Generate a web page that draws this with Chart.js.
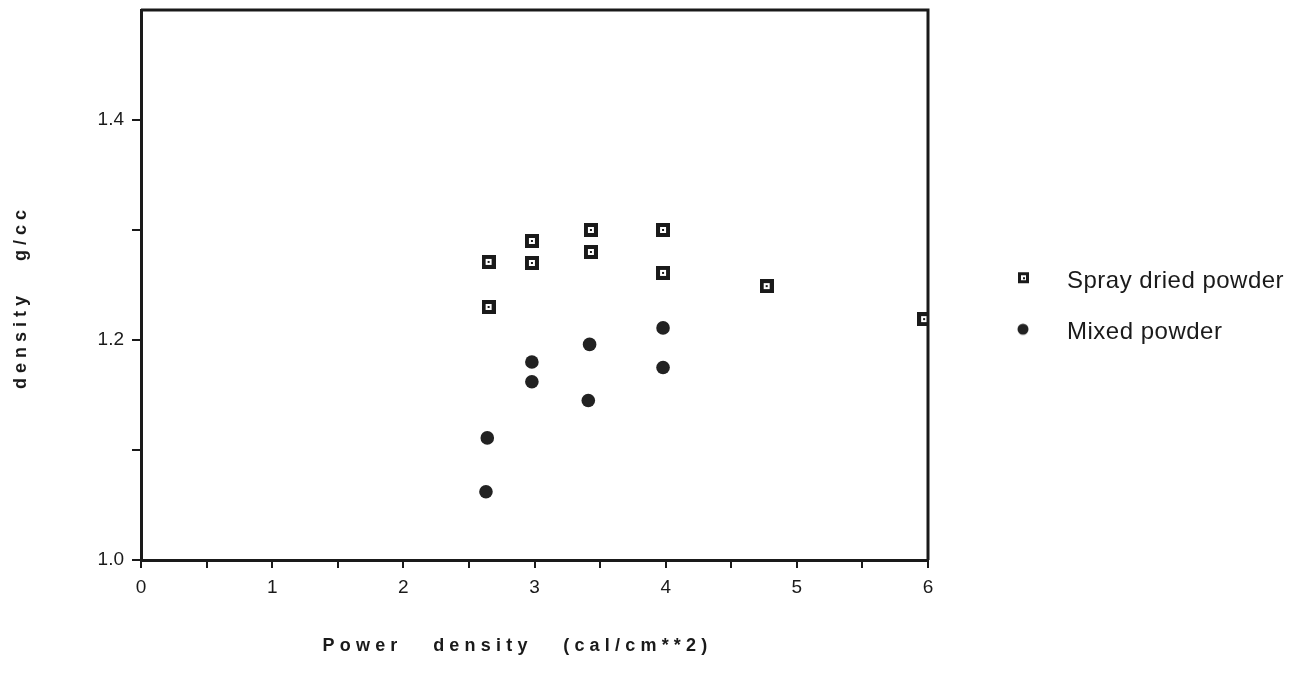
<!DOCTYPE html>
<html>
<head>
<meta charset="utf-8">
<script src="https://cdn.jsdelivr.net/npm/chart.js@4"></script>
<style>
  html, body { margin: 0; padding: 0; background: #fff; }
  #wrap { width: 1304px; height: 674px; }
</style>
</head>
<body>
<div id="wrap"><canvas id="chart" width="1304" height="674"></canvas></div>
<script>
// values
const sprayX = [2.65, 2.65, 2.98, 2.98, 3.43, 3.43, 3.98, 3.98, 4.77, 5.97];
const sprayY = [1.271, 1.230, 1.290, 1.270, 1.300, 1.280, 1.300, 1.261, 1.249, 1.219];
const mixedX = [2.64, 2.63, 2.98, 2.98, 3.42, 3.41, 3.98, 3.98];
const mixedY = [1.111, 1.062, 1.180, 1.162, 1.196, 1.145, 1.211, 1.175];
const yTicks = [1.0, 1.1, 1.2, 1.3, 1.4];
const yTickLabels = [1.0, 1.2, 1.4];
const xTickLabels = [0, 1, 2, 3, 4, 5, 6];

const ink = '#1a1a1a';
const FONT = 'Liberation Sans, Arial, sans-serif';

// square marker with a small white hole and dot in the middle
function drawSquare(g, cx, cy, size) {
  const x0 = Math.round(cx - size / 2), y0 = Math.round(cy - size / 2);
  g.fillStyle = ink;
  g.fillRect(x0, y0, size, size);
  const h = Math.round(size * 0.42);
  const o = Math.round((size - h) / 2);
  g.fillStyle = '#fff';
  g.fillRect(x0 + o, y0 + o, h, h);
  g.fillStyle = ink;
  const d = 2;
  const od = Math.round((size - d) / 2);
  g.fillRect(x0 + od, y0 + od, d, d);
}

function markerCanvas(w, h) {
  const c = document.createElement('canvas');
  c.width = w; c.height = h;
  return c;
}

const sqBig = markerCanvas(14, 14);
drawSquare(sqBig.getContext('2d'), 7, 7, 14);

// legend markers sit left of the box centre so the gap to the text matches
const sqLegend = markerCanvas(52, 20);
drawSquare(sqLegend.getContext('2d'), 6, 6, 11);
const dotLegend = markerCanvas(52, 20);
(function () {
  const g = dotLegend.getContext('2d');
  g.fillStyle = '#222';
  g.beginPath();
  g.arc(6, 7, 5.5, 0, Math.PI * 2);
  g.fill();
})();

const toPts = (xs, ys) => xs.map((x, i) => ({ x: x, y: ys[i] }));

function spaced(obj, name, spacing, dx, dy) {
  const orig = obj[name];
  obj[name] = function () {
    const ctx = this.ctx;
    ctx.save();
    ctx.letterSpacing = spacing;
    ctx.translate(dx, dy);
    orig.apply(this, arguments);
    ctx.restore();
  };
}

const tweaks = {
  id: 'tweaks',
  beforeLayout(chart) {
    const lg = chart.legend;
    if (lg && !lg._patched) {
      const fit = lg.fit;
      lg.fit = function () { fit.call(this); this.width = 376; };
      spaced(lg, 'draw', '0.5px', 0, 0);
      lg._patched = true;
    }
  },
  afterLayout(chart) {
    chart.legend.left = 1004;
    const sx = chart.scales.x, sy = chart.scales.y;
    if (!sx._patched) { spaced(sx, 'drawTitle', '5.2px', -17, 0); sx._patched = true; }
    if (!sy._patched) { spaced(sy, 'drawTitle', '5px', 0, 12); sy._patched = true; }
  },
  afterDraw(chart) {
    const { ctx, chartArea: a } = chart;
    ctx.save();
    ctx.strokeStyle = ink;
    ctx.lineWidth = 3;
    ctx.beginPath();
    ctx.moveTo(a.left, a.top);
    ctx.lineTo(a.right, a.top);
    ctx.lineTo(a.right, a.bottom);
    ctx.stroke();
    ctx.restore();
  }
};

new Chart(document.getElementById('chart'), {
  type: 'scatter',
  data: {
    datasets: [
      {
        label: 'Spray dried powder',
        data: toPts(sprayX, sprayY),
        pointStyle: sqBig,
        backgroundColor: ink,
        borderColor: ink
      },
      {
        label: 'Mixed powder',
        data: toPts(mixedX, mixedY),
        pointStyle: 'circle',
        pointRadius: 6.8,
        backgroundColor: '#222',
        borderColor: '#222',
        borderWidth: 0
      }
    ]
  },
  options: {
    responsive: false,
    animation: false,
    layout: { padding: { top: 10, right: 0, bottom: 0, left: 0 } },
    plugins: {
      tooltip: { enabled: false },
      legend: {
        position: 'right',
        align: 'start',
        title: { display: true, text: '', padding: { top: 231, bottom: 0 }, font: { size: 1 } },
        labels: {
          color: ink,
          font: { family: FONT, size: 24 },
          padding: 27,
          boxWidth: 24,
          boxHeight: 24,
          usePointStyle: true,
          generateLabels(chart) {
            return chart.data.datasets.map((ds, i) => ({
              text: ds.label,
              fillStyle: ink,
              strokeStyle: ink,
              lineWidth: 0,
              pointStyle: i === 0 ? sqLegend : dotLegend,
              datasetIndex: i,
              fontColor: ink
            }));
          }
        }
      }
    },
    scales: {
      x: {
        type: 'linear',
        min: 0,
        max: 6,
        afterFit(s) { s.height = 114; },
        border: { display: true, color: ink, width: 3 },
        grid: { drawOnChartArea: false, color: ink, lineWidth: 2, tickLength: 8 },
        ticks: {
          stepSize: 0.5,
          autoSkip: false,
          maxRotation: 0,
          padding: 8,
          color: ink,
          font: { family: FONT, size: 19 },
          callback: v => xTickLabels.includes(v) ? String(v) : ''
        },
        title: {
          display: true,
          text: 'Power   density   (cal/cm**2)',
          color: ink,
          font: { family: FONT, size: 18, weight: 'bold' },
          padding: { top: 4, bottom: 17 }
        }
      },
      y: {
        type: 'linear',
        min: 1.0,
        max: 1.5,
        afterFit(s) { s.width = 141; s.paddingTop = 0; s.paddingBottom = 0; },
        afterBuildTicks(s) { s.ticks = yTicks.map(v => ({ value: v })); },
        border: { display: true, color: ink, width: 3 },
        grid: { drawOnChartArea: false, color: ink, lineWidth: 2, tickLength: 9 },
        ticks: {
          padding: 8,
          color: ink,
          font: { family: FONT, size: 19 },
          callback: v => yTickLabels.some(t => Math.abs(t - v) < 1e-6) ? v.toFixed(1) : ''
        },
        title: {
          display: true,
          text: 'density   g/cc',
          color: ink,
          font: { family: FONT, size: 18, weight: 'bold' },
          padding: { top: 10, bottom: 0 }
        }
      }
    }
  },
  plugins: [tweaks]
});
</script>
</body>
</html>
